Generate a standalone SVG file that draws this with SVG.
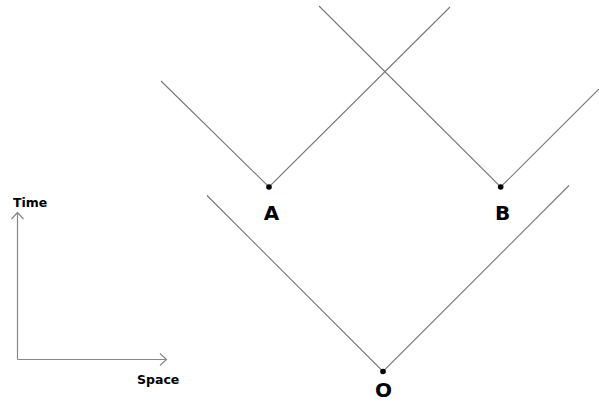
<svg xmlns="http://www.w3.org/2000/svg" width="599" height="403" viewBox="0 0 599 403">
<style>
.cone{stroke:#777;stroke-width:1.1;fill:none}
.axis{stroke:#888;stroke-width:1.2;fill:none}
.dot{fill:#000}
.lbl{font-family:"DejaVu Sans","Liberation Sans",sans-serif;font-weight:bold;font-size:20px;fill:#000;text-anchor:middle}
.ax{font-family:"DejaVu Sans","Liberation Sans",sans-serif;font-weight:bold;font-size:12.5px;fill:#000}
</style>
<rect width="599" height="403" fill="#fff"/>
<g id="connectors">
<path class="cone" d="M161,81 L269,187 L450,7"/>
<path class="cone" d="M319,6 L500.7,187 L599,89"/>
<path class="cone" d="M207,195.5 L383,371.5 L569,185.5"/>
<path class="axis" d="M17.5,359.5 V212.5 M11.5,219 L17.5,212.5 L23.5,219"/>
<path class="axis" d="M17.5,359.5 H166.5 M160,353.5 L166.5,359.5 L160,365.5"/>
</g>
<g id="A"><circle class="dot" cx="269" cy="187" r="2.8"/><text class="lbl" x="271.5" y="220">A</text></g>
<g id="B"><circle class="dot" cx="500.7" cy="187" r="2.8"/><text class="lbl" x="502.5" y="220">B</text></g>
<g id="O"><circle class="dot" cx="383" cy="371.5" r="2.8"/><text class="lbl" x="383.5" y="397">O</text></g>
<g id="time"><text class="ax" x="13" y="207">Time</text></g>
<g id="space"><text class="ax" x="137" y="383.5">Space</text></g>
</svg>
